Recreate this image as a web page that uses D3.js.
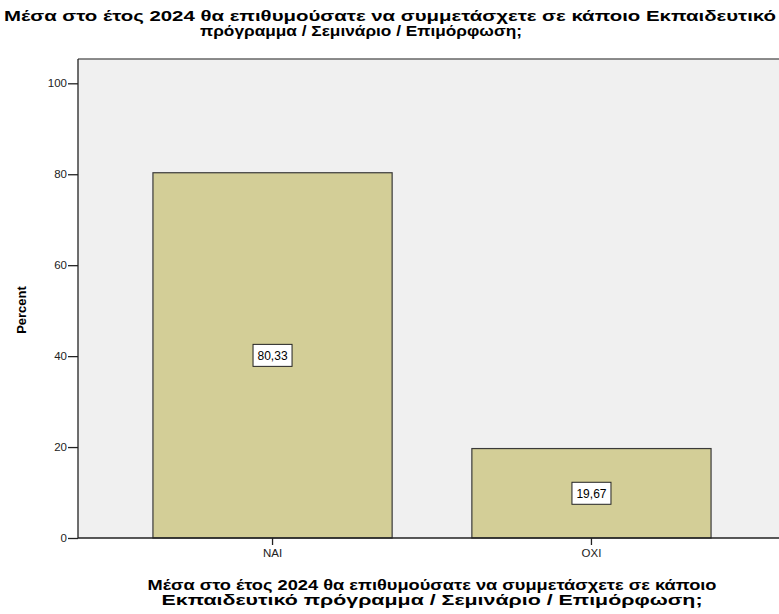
<!DOCTYPE html>
<html>
<head>
<meta charset="utf-8">
<script src="https://cdn.jsdelivr.net/npm/d3@7"></script>
<style>
  body { margin: 0; background: #fff; }
  text { font-family: "Liberation Sans", Arial, sans-serif; }
  .ttl { font-family: "Liberation Sans Narrow", "Arial Narrow", "Liberation Sans", sans-serif; }
</style>
</head>
<body>
<div id="chart"></div>
<script>
const categories = ['NAI', 'OXI'];
const percents = [80.33, 19.67];
const valueLabels = ['80,33', '19,67'];
const yTicks = [0, 20, 40, 60, 80, 100];
const titleLines = [
  'Μέσα στο έτος 2024 θα επιθυμούσατε να συμμετάσχετε σε κάποιο Εκπαιδευτικό',
  'πρόγραμμα /  Σεμινάριο / Επιμόρφωση;'
];
const xTitleLines = [
  'Μέσα στο έτος 2024 θα επιθυμούσατε να συμμετάσχετε σε κάποιο',
  'Εκπαιδευτικό πρόγραμμα /  Σεμινάριο / Επιμόρφωση;'
];

const width = 779, height = 614;
const plotLeft = 78, plotTop = 59, plotBottom = 538;

const svg = d3.select('#chart').append('svg')
  .attr('width', width)
  .attr('height', height);

// plot background
svg.append('rect')
  .attr('x', plotLeft).attr('y', plotTop)
  .attr('width', width - plotLeft + 10).attr('height', plotBottom - plotTop)
  .attr('fill', '#f0f0f0');
svg.append('line')
  .attr('x1', plotLeft).attr('x2', width)
  .attr('y1', plotTop).attr('y2', plotTop)
  .attr('stroke', '#666').attr('stroke-width', 1.5);

const y = d3.scaleLinear().domain([0, 100]).range([plotBottom, 83.3]);
const x = d3.scaleBand().domain(categories)
  .range([plotLeft, 786]).paddingInner(0.25).paddingOuter(0.235);

svg.selectAll('.bar')
  .data(categories)
  .enter()
  .append('rect')
  .attr('x', d => x(d))
  .attr('y', (d, i) => y(percents[i]))
  .attr('width', x.bandwidth())
  .attr('height', (d, i) => plotBottom - y(percents[i]))
  .attr('fill', '#d3ce97')
  .attr('stroke', '#3a3a3a')
  .attr('stroke-width', 1.2);

// value labels
const lab = svg.selectAll('.lab')
  .data(categories)
  .enter()
  .append('g')
  .attr('transform', (d, i) => `translate(${x(d) + x.bandwidth() / 2},${y(percents[i] / 2)})`);
lab.append('rect')
  .attr('x', -19.5).attr('y', -11)
  .attr('width', 39).attr('height', 22)
  .attr('fill', '#fff').attr('stroke', '#222').attr('stroke-width', 1);
lab.append('text')
  .attr('text-anchor', 'middle')
  .attr('dy', '0.36em')
  .attr('font-size', 12)
  .attr('fill', '#000')
  .text((d, i) => valueLabels[i]);

// axes
const yAxis = svg.append('g')
  .attr('transform', `translate(${plotLeft},0)`)
  .call(d3.axisLeft(y).tickValues(yTicks).tickSize(10).tickPadding(1));
const xAxis = svg.append('g')
  .attr('transform', `translate(0,${plotBottom})`)
  .call(d3.axisBottom(x).tickSize(7).tickPadding(4));
[yAxis, xAxis].forEach(a => {
  a.select('.domain').attr('stroke', '#222').attr('stroke-width', 1.3);
  a.selectAll('.tick line').attr('stroke', '#222').attr('stroke-width', 1.3);
  a.selectAll('.tick text').attr('font-size', 11.5).attr('fill', '#222')
    .style('font-family', '"Liberation Sans", Arial, sans-serif');
});
yAxis.select('.domain').attr('d', `M0,${plotTop}V${plotBottom}`);
xAxis.select('.domain').attr('d', `M${plotLeft},0H${width}`);

svg.append('text')
  .attr('transform', 'translate(26,310) rotate(-90)')
  .attr('text-anchor', 'middle')
  .attr('font-size', 13).attr('font-weight', 'bold')
  .text('Percent');

// titles
const titleCenters = [390, 361];
titleLines.forEach((t, i) => {
  svg.append('text')
    .attr('class', 'ttl')
    .attr('x', titleCenters[i]).attr('y', 21 + i * 14.5)
    .attr('text-anchor', 'middle')
    .attr('font-size', 14).attr('font-weight', 'bold')
    .attr('textLength', i === 0 ? 772 : 322)
    .attr('lengthAdjust', 'spacingAndGlyphs')
    .text(t);
});
xTitleLines.forEach((t, i) => {
  svg.append('text')
    .attr('class', 'ttl')
    .attr('x', 432).attr('y', 590 + i * 14.5)
    .attr('text-anchor', 'middle')
    .attr('font-size', 14).attr('font-weight', 'bold')
    .attr('textLength', i === 0 ? 569 : 541)
    .attr('lengthAdjust', 'spacingAndGlyphs')
    .text(t);
});
</script>
</body>
</html>
